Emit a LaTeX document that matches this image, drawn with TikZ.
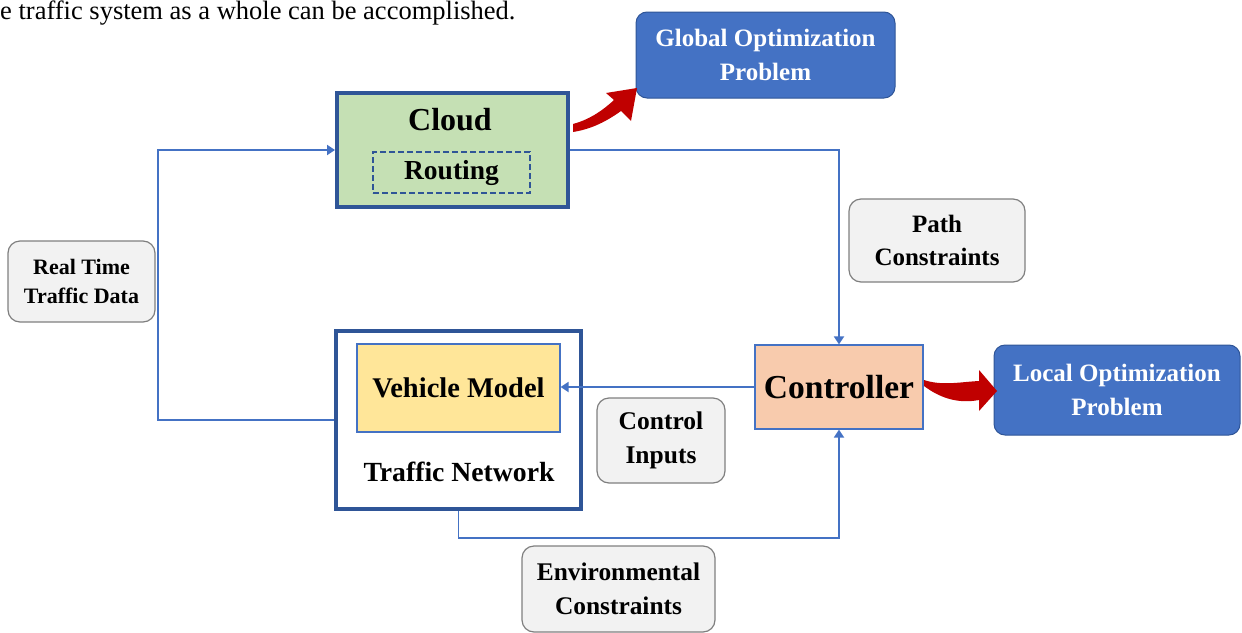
\documentclass[tikz,border=0pt]{standalone}
\usepackage{fontspec}
\setmainfont{Liberation Serif}
\usetikzlibrary{arrows.meta}
\definecolor{conn}{HTML}{4472C4}
\definecolor{dblue}{HTML}{2F5597}
\definecolor{gfill}{HTML}{F2F2F2}
\definecolor{gline}{HTML}{7F7F7F}
\definecolor{cloudg}{HTML}{C5E0B4}
\definecolor{vmy}{HTML}{FFE699}
\definecolor{ctrlo}{HTML}{F8CBAD}
\definecolor{redar}{HTML}{C00000}
\newcommand{\fs}[1]{\fontsize{#1}{1.33\dimexpr#1pt\relax}\selectfont}
\tikzset{
  box/.style={draw, inner sep=0pt, align=center, font=\bfseries},
  graybox/.style={box, fill=gfill, draw=gline, line width=1.2pt, rounded corners=12pt},
  bluebox/.style={box, fill=conn, draw=dblue, line width=1pt, rounded corners=11pt, text=white},
  thickbox/.style={box, draw=dblue, line width=4pt},
  lbl/.style={inner sep=0pt, font=\bfseries},
  connline/.style={draw=conn, line width=1.8pt},
  arr/.style={connline, -{Triangle[width=10pt,length=8pt]}},
}
\begin{document}
\begin{tikzpicture}[x=1pt,y=-1pt]
\useasboundingbox (0,0) rectangle (1242,632);
% top text
\node[anchor=base west, inner sep=0pt, font=\fs{26.5}] (toptext) at (0,19) {e traffic system as a whole can be accomplished.};
% boxes
\node[bluebox, minimum width=259pt, minimum height=86pt, font=\bfseries\fs{25}] (glob) at (765.5,55) {Global Optimization\\Problem};
\node[thickbox, fill=cloudg, minimum width=231pt, minimum height=114pt] (cloud) at (452.5,150) {};
\node[lbl, font=\bfseries\fs{32}] (cloudt) at (450,120) {Cloud};
\node[box, draw=dblue, line width=2.5pt, dash pattern=on 6pt off 3pt, minimum width=157pt, minimum height=41pt, font=\bfseries\fs{27.5}] (rout) at (451.5,172.5) {Routing};
\node[graybox, minimum width=176pt, minimum height=83pt, font=\bfseries\fs{25}] (path) at (937,240.5) {Path\\Constraints};
\node[graybox, minimum width=147pt, minimum height=81pt, font=\bfseries\fs{22}] (rtd) at (81.5,281.5) {Real Time\\Traffic Data};
\node[thickbox, fill=white, minimum width=245pt, minimum height=178pt] (tn) at (458.5,420) {};
\node[box, fill=vmy, draw=conn, line width=1.2pt, minimum width=203pt, minimum height=88pt, font=\bfseries\fs{28.5}] (vm) at (458.5,388) {Vehicle Model};
\node[lbl, font=\bfseries\fs{27.7}] (tnt) at (459,472) {Traffic Network};
\node[box, fill=ctrlo, draw=conn, line width=1.2pt, minimum width=168pt, minimum height=84pt, font=\bfseries\fs{33.5}] (ctrl) at (839,387) {Controller};
\node[graybox, minimum width=128pt, minimum height=85pt, font=\bfseries\fs{25.5}] (ci) at (661,440.5) {Control\\Inputs};
\node[graybox, minimum width=193pt, minimum height=86pt, font=\bfseries\fs{25.4}] (env) at (618.5,589) {Environmental\\Constraints};
\node[bluebox, minimum width=246pt, minimum height=90pt, font=\bfseries\fs{25}] (loc) at (1117,390) {Local Optimization\\Problem};
% connectors
\draw[arr] (cloud.east) -| (ctrl.north);
\draw[arr] (tn.west) -- ([xshift=-176pt]tn.west) |- (cloud.west);
\draw[arr] (ctrl.west) -- (vm.east |- ctrl.west);
\draw[arr] (tn.south) -- ++(0,27) -| (ctrl.south);
% red curved arrows
\fill[redar] (573,132) .. controls (592,129) and (607,121) .. (621,111) -- (631,121) -- (637,88) -- (606,93) -- (614,100) .. controls (601,112) and (588,120) .. (573,124) -- cycle;
\fill[redar] (924,380) .. controls (942,386) and (960,382) .. (979,381) -- (979,370) -- (997,391) -- (979,411) -- (979,400) .. controls (958,404) and (940,398) .. (924,386) -- cycle;
\end{tikzpicture}
\end{document}
